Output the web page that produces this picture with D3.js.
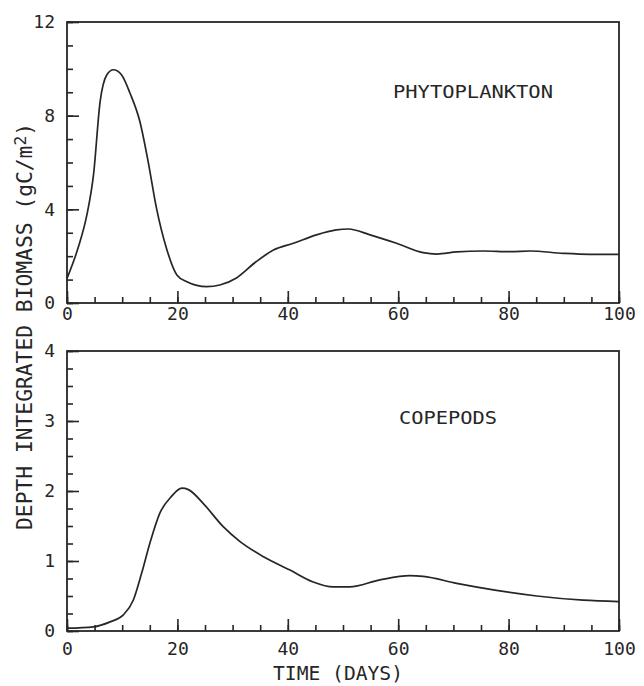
<!DOCTYPE html>
<html lang="en">
<head>
<meta charset="UTF-8">
<title>biomass</title>
<style>
  body { margin: 0; background: #fff; }
  .curve { fill: none; stroke: #262626; stroke-width: 1.7px; }
  .frame { fill: none; stroke: #262626; stroke-width: 1.8px; }
  text { fill: #262626; font-family: "DejaVu Sans Mono", monospace; }
</style>
</head>
<body>
<div id="chart"></div>
<script src="https://d3js.org/d3.v7.min.js"></script>
<script>
// phytoplankton
var phytoDays = [0, 2, 3.6, 4.8, 6, 7.2, 8.4, 9.9, 11.4, 13.2, 14.7, 16.2, 18, 19.9, 21.7, 25.3, 27.7, 30.7, 34.3, 37.4, 41, 45.2, 48.8, 51, 54.9, 59.7, 64.5, 67, 70.6, 75.4, 80.3, 83.9, 89.9, 94.7, 100];
var phytoVals = [1.05, 2.35, 3.76, 5.47, 8.6, 9.74, 9.96, 9.74, 8.97, 7.75, 6.04, 4.06, 2.35, 1.2, 0.91, 0.7, 0.77, 1.07, 1.77, 2.26, 2.55, 2.91, 3.12, 3.16, 2.91, 2.55, 2.15, 2.09, 2.18, 2.22, 2.19, 2.22, 2.12, 2.08, 2.08];

// copepods, lower panel
var copeDays = [0, 4.8, 7.8, 10.2, 12, 13.5, 15, 16.8, 18.9, 20.8, 22, 24.7, 28.3, 31.3, 35.6, 40.4, 44.6, 48.2, 51.2, 56.7, 62.1, 64.5, 70.6, 77.8, 85.1, 93.5, 100];
var copeVals = [0.04, 0.06, 0.13, 0.23, 0.44, 0.82, 1.25, 1.68, 1.92, 2.04, 2.02, 1.82, 1.49, 1.28, 1.06, 0.87, 0.7, 0.63, 0.63, 0.73, 0.79, 0.78, 0.68, 0.58, 0.5, 0.44, 0.42];

var xTicks = [0, 20, 40, 60, 80, 100];
var phytoTicks = [0, 4, 8, 12];
var copeTicks = [0, 1, 2, 3, 4];

var W = 644, H = 686;
var left = 67, right = 619;

var svg = d3.select("#chart").append("svg")
    .attr("width", W)
    .attr("height", H);

var x = d3.scaleLinear().domain([0, 100]).range([left, right]);

function panel(opts) {
  var y = d3.scaleLinear().domain([0, opts.ymax]).range([opts.bottom, opts.top]);
  var g = svg.append("g");

  // minor ticks first, then major ones with labels
  g.append("g")
    .attr("transform", "translate(" + left + ",0)")
    .call(d3.axisLeft(y).tickValues(d3.range(0, opts.ymax + 0.001, opts.minor))
      .tickSize(-6).tickSizeOuter(0).tickFormat(""));
  g.append("g")
    .attr("transform", "translate(" + left + ",0)")
    .call(d3.axisLeft(y).tickValues(opts.ticks).tickSize(-12).tickSizeOuter(0)
      .tickPadding(12).tickFormat(d3.format("d")));

  g.append("g")
    .attr("transform", "translate(0," + opts.bottom + ")")
    .call(d3.axisBottom(x).tickValues(d3.range(0, 101, 5)).tickSize(-6).tickSizeOuter(0).tickFormat(""));
  g.append("g")
    .attr("transform", "translate(0," + opts.bottom + ")")
    .call(d3.axisBottom(x).tickValues(xTicks).tickSize(-12).tickSizeOuter(0)
      .tickPadding(opts.xpad).tickFormat(d3.format("d")));

  g.selectAll(".domain").remove();
  g.selectAll(".tick line").attr("stroke", "#262626").attr("stroke-width", 1.6);
  g.selectAll(".tick text")
    .attr("fill", "#262626")
    .style("font-family", "'DejaVu Sans Mono', monospace")
    .style("font-size", "18px");

  g.append("rect").attr("class", "frame")
    .attr("x", left).attr("y", opts.top)
    .attr("width", right - left).attr("height", opts.bottom - opts.top);

  var line = d3.line()
    .x(function(d, i) { return x(opts.days[i]); })
    .y(function(d) { return y(d); })
    .curve(d3.curveMonotoneX);
  g.append("path").attr("class", "curve").attr("d", line(opts.vals));

  g.append("text")
    .attr("x", opts.lx).attr("y", opts.ly)
    .attr("textLength", opts.lw).attr("lengthAdjust", "spacingAndGlyphs")
    .style("font-size", "18px")
    .text(opts.name);
}

panel({ top: 22, bottom: 303, ymax: 12, minor: 1, ticks: phytoTicks, xpad: 4,
        days: phytoDays, vals: phytoVals,
        name: "PHYTOPLANKTON", lx: 393, ly: 98, lw: 160 });
panel({ top: 351, bottom: 631, ymax: 4, minor: 0.25, ticks: copeTicks, xpad: 11,
        days: copeDays, vals: copeVals,
        name: "COPEPODS", lx: 399, ly: 424, lw: 98 });

svg.append("text")
  .attr("x", 273).attr("y", 680)
  .attr("textLength", 130).attr("lengthAdjust", "spacingAndGlyphs")
  .style("font-size", "19px")
  .text("TIME (DAYS)");

var ylab = svg.append("text")
  .attr("transform", "translate(32,530) rotate(-90)")
  .attr("textLength", 407).attr("lengthAdjust", "spacingAndGlyphs")
  .style("font-size", "21px");
ylab.append("tspan").text("DEPTH INTEGRATED BIOMASS (gC/m");
ylab.append("tspan").attr("dy", -6).style("font-size", "16px").text("2");
ylab.append("tspan").attr("dy", 6).text(")");
</script>
</body>
</html>
